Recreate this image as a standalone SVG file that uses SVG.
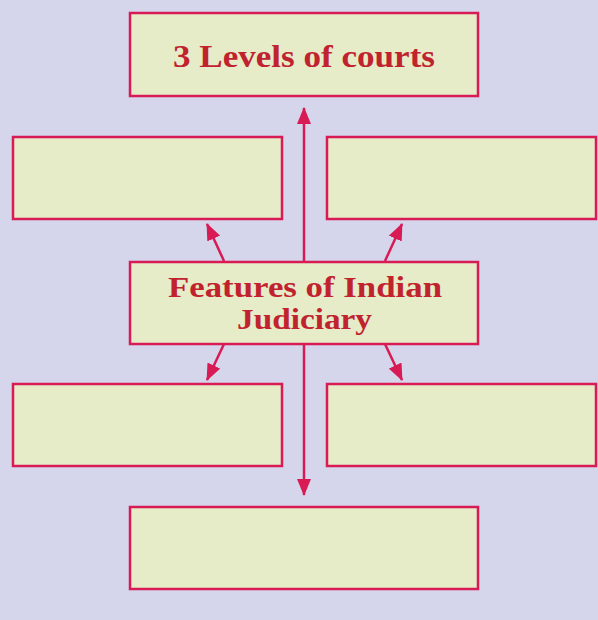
<svg xmlns="http://www.w3.org/2000/svg" width="598" height="620" viewBox="0 0 598 620">
<style>
.box{fill:#e6ebc8;stroke:#d81a55;stroke-width:2.5}
.ln{stroke:#d81a55;stroke-width:2.5;fill:none}
.t{font-family:"Liberation Serif","DejaVu Serif",serif;font-weight:bold;fill:#c1232e;text-anchor:middle;font-size:32px}
.c{font-size:29px}
</style>
<defs>
<marker id="ah2" viewBox="0 0 17 14" refX="16" refY="7" markerWidth="17" markerHeight="14" orient="auto" markerUnits="userSpaceOnUse">
<path d="M0,0 L17,7 L0,14 Z" fill="#d81a55"/>
</marker>
</defs>
<rect x="0" y="0" width="598" height="620" fill="#d5d6eb"/>
<g id="connectors">
<line class="ln" x1="304" y1="261" x2="304" y2="108" marker-end="url(#ah2)"/>
<line class="ln" x1="304" y1="344" x2="304" y2="495" marker-end="url(#ah2)"/>
<line class="ln" x1="224" y1="261" x2="207" y2="224" marker-end="url(#ah2)"/>
<line class="ln" x1="385" y1="261" x2="402" y2="224" marker-end="url(#ah2)"/>
<line class="ln" x1="224" y1="344" x2="207" y2="380" marker-end="url(#ah2)"/>
<line class="ln" x1="385" y1="344" x2="402" y2="380" marker-end="url(#ah2)"/>
</g>
<g id="top"><rect class="box" x="130" y="13" width="348" height="83"/><text class="t" x="304" y="67" textLength="262" lengthAdjust="spacingAndGlyphs">3 Levels of courts</text></g>
<g id="topleft"><rect class="box" x="13" y="137" width="269" height="82"/></g>
<g id="topright"><rect class="box" x="327" y="137" width="269" height="82"/></g>
<g id="center"><rect class="box" x="130" y="262" width="348" height="82"/><text class="t c" x="305" y="297" textLength="274" lengthAdjust="spacingAndGlyphs">Features of Indian</text><text class="t c" x="304.5" y="329" textLength="135" lengthAdjust="spacingAndGlyphs">Judiciary</text></g>
<g id="bottomleft"><rect class="box" x="13" y="384" width="269" height="82"/></g>
<g id="bottomright"><rect class="box" x="327" y="384" width="269" height="82"/></g>
<g id="bottom"><rect class="box" x="130" y="507" width="348" height="82"/></g>
</svg>
